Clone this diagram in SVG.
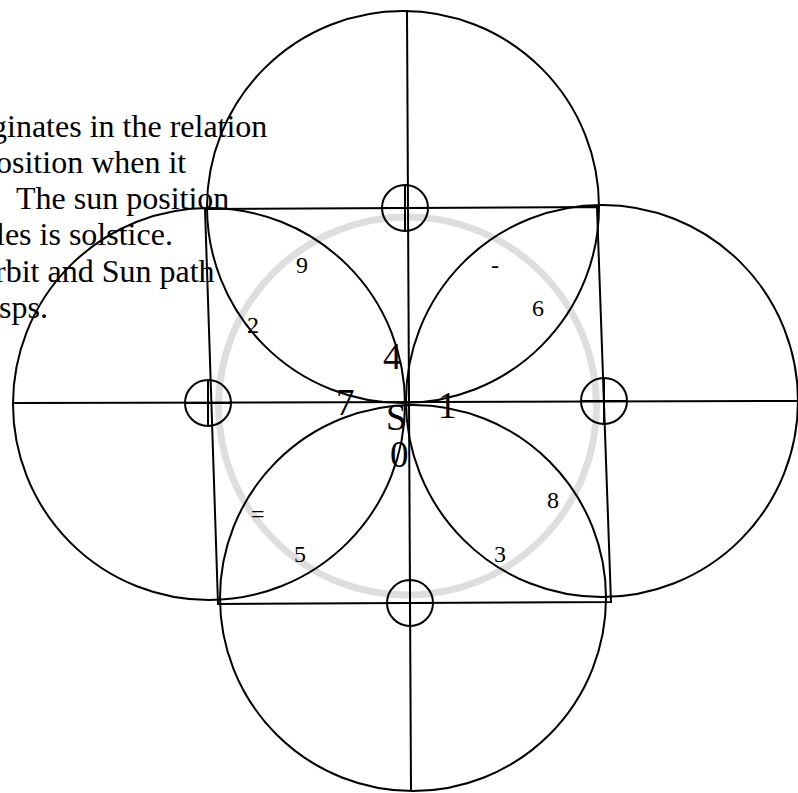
<svg xmlns="http://www.w3.org/2000/svg" width="798" height="793" viewBox="0 0 798 793">
<style>
.ln{fill:none;stroke:#000;stroke-width:2}
.orbit{fill:none;stroke:#dedede;stroke-width:7}
.cap{font-family:"Liberation Serif","Times New Roman",serif;font-size:32px;fill:#000}
.sm{font-family:"Liberation Serif","Times New Roman",serif;font-size:24px;fill:#000}
.lg{font-family:"Liberation Serif","Times New Roman",serif;font-size:37px;fill:#000}
</style>
<rect width="798" height="793" fill="#fff"/>
<g id="caption" class="cap">
<text x="-9" y="137">ginates in the relation</text>
<text x="-4" y="173">osition when it</text>
<text x="16" y="209">The sun position</text>
<text x="-4" y="245">les is solstice.</text>
<text x="-5" y="282">rbit and Sun path</text>
<text x="-1" y="318">sps.</text>
</g>
<g id="orbit">
<circle class="orbit" cx="407.5" cy="406" r="189"/>
</g>
<g id="connectors">
<polygon class="ln" points="205,209 597,207 611,602 218,604"/>
<line class="ln" x1="407" y1="10" x2="411" y2="791"/>
<line class="ln" x1="13" y1="403" x2="798" y2="401"/>
</g>
<g id="petal-top"><circle class="ln" cx="403" cy="207" r="196"/></g>
<g id="petal-left"><circle class="ln" cx="209" cy="404" r="196"/></g>
<g id="petal-right"><circle class="ln" cx="602" cy="401" r="196"/></g>
<g id="petal-bottom"><circle class="ln" cx="413" cy="598" r="193"/></g>
<g id="cross-top"><circle class="ln" cx="405" cy="208" r="23"/><path class="ln" d="M382,208H428M405,185V231"/></g>
<g id="cross-left"><circle class="ln" cx="208" cy="403" r="23"/><path class="ln" d="M185,403H231M208,380V426"/></g>
<g id="cross-right"><circle class="ln" cx="604" cy="401" r="23"/><path class="ln" d="M581,401H627M604,378V424"/></g>
<g id="cross-bottom"><circle class="ln" cx="410" cy="603" r="23"/><path class="ln" d="M387,603H433M410,580V626"/></g>
<g id="labels">
<text class="sm" x="296" y="273">9</text>
<text class="sm" x="491" y="273">-</text>
<text class="sm" x="532" y="316">6</text>
<text class="sm" x="247" y="333">2</text>
<text class="sm" x="547" y="508">8</text>
<text class="sm" x="251" y="522">=</text>
<text class="sm" x="294" y="562">5</text>
<text class="sm" x="494" y="562">3</text>
<text class="lg" x="383" y="369">4</text>
<text class="lg" x="336" y="415">7</text>
<text class="lg" x="438" y="418">1</text>
<text class="lg" x="386" y="430">S</text>
<text class="lg" x="390" y="467">0</text>
</g>
</svg>
